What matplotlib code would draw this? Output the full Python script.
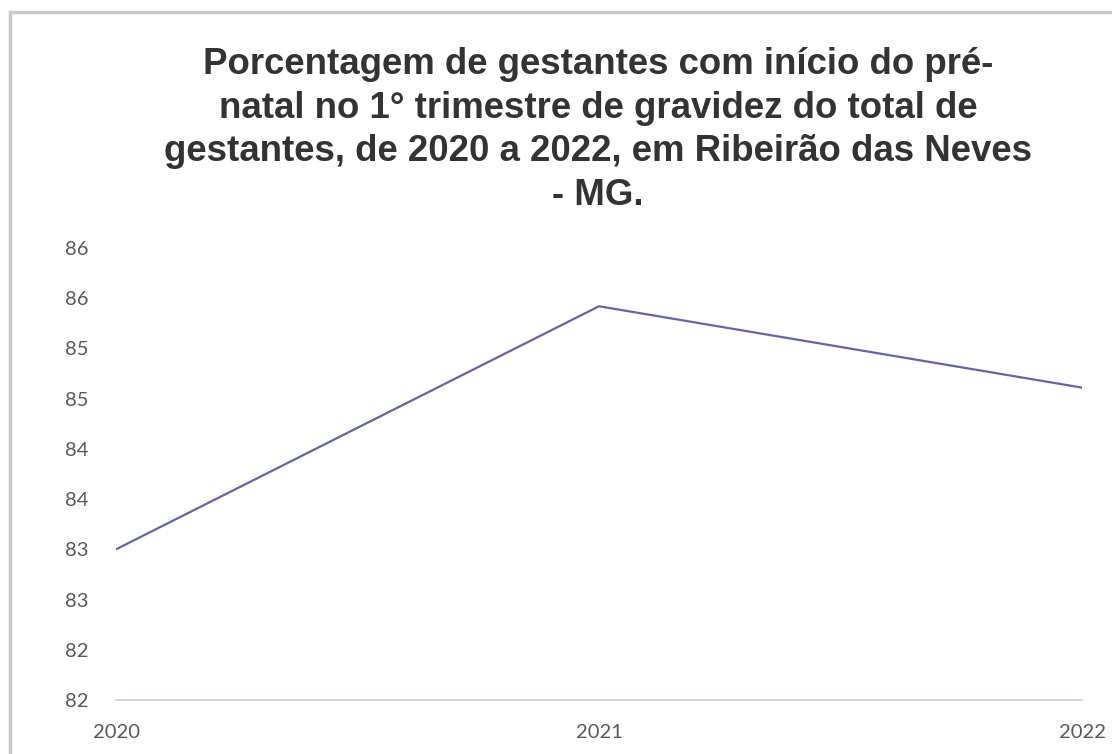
import numpy as np
import matplotlib.pyplot as plt
from matplotlib.ticker import FuncFormatter
from matplotlib.patches import Rectangle

anos = [2020, 2021, 2022]
percentual = [83.0, 85.42, 84.61]
y_ticks = [81.5, 82.0, 82.5, 83.0, 83.5, 84.0, 84.5, 85.0, 85.5, 86.0]

titulo = ("Porcentagem de gestantes com início do pré-\n"
          "natal no 1° trimestre de gravidez do total de\n"
          "gestantes, de 2020 a 2022, em Ribeirão das Neves\n"
          "- MG.")

fig = plt.figure(figsize=(11.12, 7.54), dpi=100)
fig.patch.set_facecolor('white')

# moldura cinza do gráfico
fig.patches.append(Rectangle((10 / 1112, -0.05), 1.2, 1 - 12 / 754 + 0.05,
                             transform=fig.transFigure, fill=False,
                             edgecolor='#c9c9c9', linewidth=2.5))

ax = fig.add_axes([116 / 1112, 1 - 700 / 754, (1082 - 116) / 1112, (700 - 248) / 754])
ax.plot(anos, percentual, color='#6365a8', linewidth=1.6)

ax.set_xlim(anos[0], anos[-1])
ax.set_ylim(y_ticks[0], y_ticks[-1])
ax.set_xticks(anos)
ax.set_yticks(y_ticks)
# rótulos arredondados como no Excel (meio para cima)
ax.yaxis.set_major_formatter(FuncFormatter(lambda v, p: f"{int(np.floor(v + 0.5))}"))

for s in ['top', 'right', 'left']:
    ax.spines[s].set_visible(False)
ax.spines['bottom'].set_color('#cfd1e3')
ax.spines['bottom'].set_linewidth(1.2)
ax.tick_params(axis='both', length=0, labelsize=14.5, labelcolor='#595959')
ax.tick_params(axis='y', pad=20)
ax.tick_params(axis='x', pad=17)
for lab in ax.get_xticklabels() + ax.get_yticklabels():
    lab.set_family('Lato')

fig.text(598 / 1112, 1 - 47 / 754, titulo, ha='center', va='top',
         fontsize=26.4, fontweight='bold', family='Liberation Sans',
         color='#333333', linespacing=1.32)

fig.savefig('out.png', dpi=100)
